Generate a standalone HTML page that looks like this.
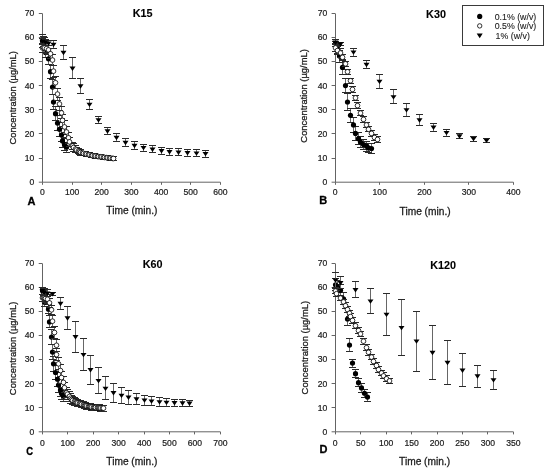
<!DOCTYPE html>
<html><head><meta charset="utf-8"><style>
html,body{margin:0;padding:0;background:#fff;}
body{width:550px;height:472px;overflow:hidden;}
svg{display:block;will-change:transform;}
text{font-family:"Liberation Sans", sans-serif;fill:#1a1a1a;stroke:#1a1a1a;stroke-width:0.2px;}
.tl{font-size:8.6px;}
.at{font-size:10.2px;stroke-width:0.28px;}
.tt{font-size:10.8px;font-weight:bold;fill:#000;stroke:#000;stroke-width:0.1px;}
.lt{font-size:11px;font-weight:bold;fill:#000;stroke:#000;stroke-width:0.3px;}
.lg{font-size:8.8px;stroke-width:0.1px;}
.yt{font-size:9.4px;}
</style></head><body>
<svg width="550" height="472" viewBox="0 0 550 472">
<rect width="550" height="472" fill="#fff"/>
<path d="M42.5 13.5V182.2M42.4 182.2H220.4" fill="none" stroke="#646464" stroke-width="1"/>
<path d="M38.8 182.2H42.4M38.8 158.5H42.4M38.8 133.5H42.4M38.8 109.5H42.4M38.8 85.5H42.4M38.8 61.5H42.4M38.8 37.5H42.4M38.8 13.5H42.4M42.5 182.2V184.8M72.5 182.2V184.8M101.5 182.2V184.8M131.5 182.2V184.8M161.5 182.2V184.8M190.5 182.2V184.8M220.5 182.2V184.8" stroke="#646464" stroke-width="1"/>
<text x="34.4" y="185.15" text-anchor="end" class="tl">0</text>
<text x="34.4" y="161.01" text-anchor="end" class="tl">10</text>
<text x="34.4" y="136.86" text-anchor="end" class="tl">20</text>
<text x="34.4" y="112.72" text-anchor="end" class="tl">30</text>
<text x="34.4" y="88.58" text-anchor="end" class="tl">40</text>
<text x="34.4" y="64.44" text-anchor="end" class="tl">50</text>
<text x="34.4" y="40.29" text-anchor="end" class="tl">60</text>
<text x="34.4" y="16.15" text-anchor="end" class="tl">70</text>
<text x="42.4" y="195.2" text-anchor="middle" class="tl">0</text>
<text x="72.07" y="195.2" text-anchor="middle" class="tl">100</text>
<text x="101.73" y="195.2" text-anchor="middle" class="tl">200</text>
<text x="131.4" y="195.2" text-anchor="middle" class="tl">300</text>
<text x="161.07" y="195.2" text-anchor="middle" class="tl">400</text>
<text x="190.73" y="195.2" text-anchor="middle" class="tl">500</text>
<text x="220.4" y="195.2" text-anchor="middle" class="tl">600</text>
<text x="131.9" y="214.1" text-anchor="middle" class="at">Time (min.)</text>
<text transform="translate(15.6 97.85) rotate(-90)" text-anchor="middle" class="at yt">Concentration (µg/mL)</text>
<text x="132.7" y="16.7" class="tt">K15</text>
<text x="27.6" y="205.2" class="lt">A</text>
<path d="M42.5 34.5V47.5M43.5 36.5V46.5M44.5 37.5V47.5M45.5 47.5V57.5M48.5 52.5V64.5M50.5 64.5V78.5M52.5 79.5V94.5M53.5 94.5V109.5M55.5 106.5V120.5M57.5 115.5V130.5M59.5 122.5V136.5M61.5 128.5V141.5M62.5 134.5V147.5M64.5 138.5V150.5M66.5 142.5V152.5" stroke="#666" stroke-width="1" fill="none"/>
<path d="M39 34.5H46M39 47.5H46M40 36.5H47M40 46.5H47M41 37.5H48M41 47.5H48M42 47.5H49M42 57.5H49M45 52.5H52M45 64.5H52M47 64.5H54M47 78.5H54M49 79.5H56M49 94.5H56M50 94.5H57M50 109.5H57M52 106.5H59M52 120.5H59M54 115.5H61M54 130.5H61M56 122.5H63M56 136.5H63M58 128.5H65M58 141.5H65M59 134.5H66M59 147.5H66M61 138.5H68M61 150.5H68M63 142.5H70M63 152.5H70" stroke="#2a2a2a" stroke-width="1" fill="none"/>
<circle cx="42.5" cy="40.96" r="2.6" fill="#000"/>
<circle cx="43.5" cy="41.45" r="2.6" fill="#000"/>
<circle cx="44.5" cy="42.65" r="2.6" fill="#000"/>
<circle cx="45.5" cy="52.55" r="2.6" fill="#000"/>
<circle cx="48.5" cy="58.83" r="2.6" fill="#000"/>
<circle cx="50.5" cy="71.63" r="2.6" fill="#000"/>
<circle cx="52.5" cy="87.08" r="2.6" fill="#000"/>
<circle cx="53.5" cy="102.05" r="2.6" fill="#000"/>
<circle cx="55.5" cy="113.63" r="2.6" fill="#000"/>
<circle cx="57.5" cy="123.05" r="2.6" fill="#000"/>
<circle cx="59.5" cy="129.33" r="2.6" fill="#000"/>
<circle cx="61.5" cy="135.12" r="2.6" fill="#000"/>
<circle cx="62.5" cy="140.92" r="2.6" fill="#000"/>
<circle cx="64.5" cy="144.54" r="2.6" fill="#000"/>
<circle cx="66.5" cy="147.19" r="2.6" fill="#000"/>
<path d="M42.5 43.5V52.5M43.5 42.5V52.5M44.5 43.5V52.5M46.5 43.5V53.5M48.5 45.5V54.5M50.5 48.5V58.5M52.5 54.5V65.5M53.5 65.5V77.5M55.5 76.5V88.5M57.5 88.5V100.5M59.5 97.5V110.5M61.5 106.5V118.5M62.5 114.5V126.5M64.5 120.5V132.5M66.5 126.5V137.5M68.5 132.5V143.5M69.5 137.5V146.5M72.5 142.5V149.5M73.5 143.5V151.5M75.5 145.5V152.5M76.5 147.5V152.5M78.5 148.5V153.5M79.5 149.5V154.5M80.5 149.5V155.5M82.5 151.5V154.5M83.5 151.5V155.5M85.5 151.5V155.5M86.5 152.5V156.5M88.5 152.5V156.5M89.5 152.5V156.5M91.5 153.5V157.5M92.5 153.5V157.5M94.5 153.5V157.5M95.5 154.5V158.5M97.5 154.5V158.5M98.5 154.5V158.5M100.5 154.5V158.5M101.5 155.5V158.5M103.5 155.5V159.5M104.5 155.5V159.5M106.5 155.5V159.5M107.5 155.5V159.5M109.5 156.5V159.5M110.5 156.5V160.5M112.5 156.5V160.5M113.5 156.5V160.5" stroke="#666" stroke-width="1" fill="none"/>
<path d="M39 43.5H46M39 52.5H46M40 42.5H47M40 52.5H47M41 43.5H48M41 52.5H48M43 43.5H50M43 53.5H50M45 45.5H52M45 54.5H52M47 48.5H54M47 58.5H54M49 54.5H56M49 65.5H56M50 65.5H57M50 77.5H57M52 76.5H59M52 88.5H59M54 88.5H61M54 100.5H61M56 97.5H63M56 110.5H63M58 106.5H65M58 118.5H65M59 114.5H66M59 126.5H66M61 120.5H68M61 132.5H68M63 126.5H70M63 137.5H70M65 132.5H72M65 143.5H72M66 137.5H73M66 146.5H73M69 142.5H76M69 149.5H76M70 143.5H77M70 151.5H77M72 145.5H79M72 152.5H79M73 147.5H80M73 152.5H80M75 148.5H82M75 153.5H82M76 149.5H83M76 154.5H83M77 149.5H84M77 155.5H84M79 151.5H86M79 154.5H86M80 151.5H87M80 155.5H87M82 151.5H89M82 155.5H89M83 152.5H90M83 156.5H90M85 152.5H92M85 156.5H92M86 152.5H93M86 156.5H93M88 153.5H95M88 157.5H95M89 153.5H96M89 157.5H96M91 153.5H98M91 157.5H98M92 154.5H99M92 158.5H99M94 154.5H101M94 158.5H101M95 154.5H102M95 158.5H102M97 154.5H104M97 158.5H104M98 155.5H105M98 158.5H105M100 155.5H107M100 159.5H107M101 155.5H108M101 159.5H108M103 155.5H110M103 159.5H110M104 155.5H111M104 159.5H111M106 156.5H113M106 159.5H113M107 156.5H114M107 160.5H114M109 156.5H116M109 160.5H116M110 156.5H117M110 160.5H117" stroke="#2a2a2a" stroke-width="1" fill="none"/>
<circle cx="42.5" cy="47.97" r="2.35" fill="#fff" stroke="#000" stroke-width="0.8"/>
<circle cx="43.5" cy="47.48" r="2.35" fill="#fff" stroke="#000" stroke-width="0.8"/>
<circle cx="44.5" cy="47.97" r="2.35" fill="#fff" stroke="#000" stroke-width="0.8"/>
<circle cx="46.5" cy="48.69" r="2.35" fill="#fff" stroke="#000" stroke-width="0.8"/>
<circle cx="48.5" cy="49.9" r="2.35" fill="#fff" stroke="#000" stroke-width="0.8"/>
<circle cx="50.5" cy="53.76" r="2.35" fill="#fff" stroke="#000" stroke-width="0.8"/>
<circle cx="52.5" cy="60.04" r="2.35" fill="#fff" stroke="#000" stroke-width="0.8"/>
<circle cx="53.5" cy="71.14" r="2.35" fill="#fff" stroke="#000" stroke-width="0.8"/>
<circle cx="55.5" cy="82.73" r="2.35" fill="#fff" stroke="#000" stroke-width="0.8"/>
<circle cx="57.5" cy="94.08" r="2.35" fill="#fff" stroke="#000" stroke-width="0.8"/>
<circle cx="59.5" cy="103.98" r="2.35" fill="#fff" stroke="#000" stroke-width="0.8"/>
<circle cx="61.5" cy="112.91" r="2.35" fill="#fff" stroke="#000" stroke-width="0.8"/>
<circle cx="62.5" cy="120.39" r="2.35" fill="#fff" stroke="#000" stroke-width="0.8"/>
<circle cx="64.5" cy="126.91" r="2.35" fill="#fff" stroke="#000" stroke-width="0.8"/>
<circle cx="66.5" cy="131.98" r="2.35" fill="#fff" stroke="#000" stroke-width="0.8"/>
<circle cx="68.5" cy="137.78" r="2.35" fill="#fff" stroke="#000" stroke-width="0.8"/>
<circle cx="69.5" cy="141.88" r="2.35" fill="#fff" stroke="#000" stroke-width="0.8"/>
<circle cx="72.5" cy="145.99" r="2.35" fill="#fff" stroke="#000" stroke-width="0.8"/>
<circle cx="73.5" cy="147.56" r="2.35" fill="#fff" stroke="#000" stroke-width="0.8"/>
<circle cx="75.5" cy="149.12" r="2.35" fill="#fff" stroke="#000" stroke-width="0.8"/>
<circle cx="76.5" cy="150.09" r="2.35" fill="#fff" stroke="#000" stroke-width="0.8"/>
<circle cx="78.5" cy="151.06" r="2.35" fill="#fff" stroke="#000" stroke-width="0.8"/>
<circle cx="79.5" cy="151.78" r="2.35" fill="#fff" stroke="#000" stroke-width="0.8"/>
<circle cx="80.5" cy="152.5" r="2.35" fill="#fff" stroke="#000" stroke-width="0.8"/>
<circle cx="82.5" cy="152.99" r="2.35" fill="#fff" stroke="#000" stroke-width="0.8"/>
<circle cx="83.5" cy="153.47" r="2.35" fill="#fff" stroke="#000" stroke-width="0.8"/>
<circle cx="85.5" cy="153.83" r="2.35" fill="#fff" stroke="#000" stroke-width="0.8"/>
<circle cx="86.5" cy="154.19" r="2.35" fill="#fff" stroke="#000" stroke-width="0.8"/>
<circle cx="88.5" cy="154.56" r="2.35" fill="#fff" stroke="#000" stroke-width="0.8"/>
<circle cx="89.5" cy="154.92" r="2.35" fill="#fff" stroke="#000" stroke-width="0.8"/>
<circle cx="91.5" cy="155.28" r="2.35" fill="#fff" stroke="#000" stroke-width="0.8"/>
<circle cx="92.5" cy="155.64" r="2.35" fill="#fff" stroke="#000" stroke-width="0.8"/>
<circle cx="94.5" cy="155.88" r="2.35" fill="#fff" stroke="#000" stroke-width="0.8"/>
<circle cx="95.5" cy="156.13" r="2.35" fill="#fff" stroke="#000" stroke-width="0.8"/>
<circle cx="97.5" cy="156.37" r="2.35" fill="#fff" stroke="#000" stroke-width="0.8"/>
<circle cx="98.5" cy="156.61" r="2.35" fill="#fff" stroke="#000" stroke-width="0.8"/>
<circle cx="100.5" cy="156.79" r="2.35" fill="#fff" stroke="#000" stroke-width="0.8"/>
<circle cx="101.5" cy="156.97" r="2.35" fill="#fff" stroke="#000" stroke-width="0.8"/>
<circle cx="103.5" cy="157.21" r="2.35" fill="#fff" stroke="#000" stroke-width="0.8"/>
<circle cx="104.5" cy="157.45" r="2.35" fill="#fff" stroke="#000" stroke-width="0.8"/>
<circle cx="106.5" cy="157.63" r="2.35" fill="#fff" stroke="#000" stroke-width="0.8"/>
<circle cx="107.5" cy="157.82" r="2.35" fill="#fff" stroke="#000" stroke-width="0.8"/>
<circle cx="109.5" cy="158" r="2.35" fill="#fff" stroke="#000" stroke-width="0.8"/>
<circle cx="110.5" cy="158.18" r="2.35" fill="#fff" stroke="#000" stroke-width="0.8"/>
<circle cx="112.5" cy="158.36" r="2.35" fill="#fff" stroke="#000" stroke-width="0.8"/>
<circle cx="113.5" cy="158.54" r="2.35" fill="#fff" stroke="#000" stroke-width="0.8"/>
<path d="M42.5 38.5V44.5M45.5 39.5V45.5M48.5 40.5V45.5M53.5 40.5V48.5M63.5 45.5V59.5M72.5 57.5V78.5M80.5 78.5V93.5M89.5 99.5V109.5M98.5 116.5V123.5M107.5 127.5V134.5M116.5 133.5V141.5M125.5 138.5V146.5M134.5 141.5V149.5M143.5 144.5V151.5M152.5 145.5V152.5M161.5 147.5V154.5M169.5 148.5V155.5M178.5 148.5V155.5M187.5 149.5V156.5M196.5 149.5V156.5M205.5 150.5V157.5" stroke="#666" stroke-width="1" fill="none"/>
<path d="M39 38.5H46M39 44.5H46M42 39.5H49M42 45.5H49M45 40.5H52M45 45.5H52M50 40.5H57M50 48.5H57M60 45.5H67M60 59.5H67M69 57.5H76M69 78.5H76M77 78.5H84M77 93.5H84M86 99.5H93M86 109.5H93M95 116.5H102M95 123.5H102M104 127.5H111M104 134.5H111M113 133.5H120M113 141.5H120M122 138.5H129M122 146.5H129M131 141.5H138M131 149.5H138M140 144.5H147M140 151.5H147M149 145.5H156M149 152.5H156M158 147.5H165M158 154.5H165M166 148.5H173M166 155.5H173M175 148.5H182M175 155.5H182M184 149.5H191M184 156.5H191M193 149.5H200M193 156.5H200M202 150.5H209M202 157.5H209" stroke="#2a2a2a" stroke-width="1" fill="none"/>
<path d="M39.5 39.69H45.5L42.5 44.09Z" fill="#000"/>
<path d="M42.5 40.41H48.5L45.5 44.81Z" fill="#000"/>
<path d="M45.5 41.62H51.5L48.5 46.02Z" fill="#000"/>
<path d="M50.5 42.83H56.5L53.5 47.23Z" fill="#000"/>
<path d="M60.5 50.79H66.5L63.5 55.19Z" fill="#000"/>
<path d="M69.5 66.49H75.5L72.5 70.89Z" fill="#000"/>
<path d="M77.5 84.35H83.5L80.5 88.75Z" fill="#000"/>
<path d="M86.5 102.7H92.5L89.5 107.1Z" fill="#000"/>
<path d="M95.5 118.15H101.5L98.5 122.55Z" fill="#000"/>
<path d="M104.5 129.26H110.5L107.5 133.66Z" fill="#000"/>
<path d="M113.5 135.78H119.5L116.5 140.18Z" fill="#000"/>
<path d="M122.5 140.85H128.5L125.5 145.25Z" fill="#000"/>
<path d="M131.5 143.74H137.5L134.5 148.14Z" fill="#000"/>
<path d="M140.5 145.92H146.5L143.5 150.32Z" fill="#000"/>
<path d="M149.5 147.61H155.5L152.5 152.01Z" fill="#000"/>
<path d="M158.5 149.05H164.5L161.5 153.45Z" fill="#000"/>
<path d="M166.5 150.02H172.5L169.5 154.42Z" fill="#000"/>
<path d="M175.5 150.5H181.5L178.5 154.9Z" fill="#000"/>
<path d="M184.5 150.99H190.5L187.5 155.39Z" fill="#000"/>
<path d="M193.5 151.47H199.5L196.5 155.87Z" fill="#000"/>
<path d="M202.5 151.95H208.5L205.5 156.35Z" fill="#000"/>
<path d="M335.5 13.5V182.2M335.2 182.2H513.4" fill="none" stroke="#646464" stroke-width="1"/>
<path d="M331.6 182.2H335.2M331.6 158.5H335.2M331.6 133.5H335.2M331.6 109.5H335.2M331.6 85.5H335.2M331.6 61.5H335.2M331.6 37.5H335.2M331.6 13.5H335.2M335.5 182.2V184.8M379.5 182.2V184.8M424.5 182.2V184.8M468.5 182.2V184.8M513.5 182.2V184.8" stroke="#646464" stroke-width="1"/>
<text x="327.2" y="185.15" text-anchor="end" class="tl">0</text>
<text x="327.2" y="160.99" text-anchor="end" class="tl">10</text>
<text x="327.2" y="136.84" text-anchor="end" class="tl">20</text>
<text x="327.2" y="112.68" text-anchor="end" class="tl">30</text>
<text x="327.2" y="88.52" text-anchor="end" class="tl">40</text>
<text x="327.2" y="64.36" text-anchor="end" class="tl">50</text>
<text x="327.2" y="40.21" text-anchor="end" class="tl">60</text>
<text x="327.2" y="16.05" text-anchor="end" class="tl">70</text>
<text x="335.2" y="195.2" text-anchor="middle" class="tl">0</text>
<text x="379.75" y="195.2" text-anchor="middle" class="tl">100</text>
<text x="424.3" y="195.2" text-anchor="middle" class="tl">200</text>
<text x="468.85" y="195.2" text-anchor="middle" class="tl">300</text>
<text x="513.4" y="195.2" text-anchor="middle" class="tl">400</text>
<text x="425.1" y="214.6" text-anchor="middle" class="at">Time (min.)</text>
<text transform="translate(306.6 95.9) rotate(-90)" text-anchor="middle" class="at yt">Concentration (µg/mL)</text>
<text x="426.1" y="17.5" class="tt">K30</text>
<text x="319.3" y="203.7" class="lt">B</text>
<path d="M335.5 39.5V46.5M337.5 43.5V53.5M339.5 50.5V62.5M342.5 60.5V74.5M345.5 78.5V92.5M347.5 93.5V110.5M350.5 108.5V122.5M353.5 117.5V132.5M355.5 126.5V140.5M358.5 132.5V144.5M360.5 136.5V147.5M363.5 139.5V149.5M366.5 141.5V151.5M368.5 143.5V152.5M371.5 143.5V153.5" stroke="#666" stroke-width="1" fill="none"/>
<path d="M332 39.5H339M332 46.5H339M334 43.5H341M334 53.5H341M336 50.5H343M336 62.5H343M339 60.5H346M339 74.5H346M342 78.5H349M342 92.5H349M344 93.5H351M344 110.5H351M347 108.5H354M347 122.5H354M350 117.5H357M350 132.5H357M352 126.5H359M352 140.5H359M355 132.5H362M355 144.5H362M357 136.5H364M357 147.5H364M360 139.5H367M360 149.5H367M363 141.5H370M363 151.5H370M365 143.5H372M365 152.5H372M368 143.5H375M368 153.5H375" stroke="#2a2a2a" stroke-width="1" fill="none"/>
<circle cx="335.5" cy="43.3" r="2.6" fill="#000"/>
<circle cx="337.5" cy="48.61" r="2.6" fill="#000"/>
<circle cx="339.5" cy="56.1" r="2.6" fill="#000"/>
<circle cx="342.5" cy="67.45" r="2.6" fill="#000"/>
<circle cx="345.5" cy="85.57" r="2.6" fill="#000"/>
<circle cx="347.5" cy="102" r="2.6" fill="#000"/>
<circle cx="350.5" cy="115.28" r="2.6" fill="#000"/>
<circle cx="353.5" cy="124.95" r="2.6" fill="#000"/>
<circle cx="355.5" cy="133.4" r="2.6" fill="#000"/>
<circle cx="358.5" cy="138.72" r="2.6" fill="#000"/>
<circle cx="360.5" cy="142.1" r="2.6" fill="#000"/>
<circle cx="363.5" cy="144.51" r="2.6" fill="#000"/>
<circle cx="366.5" cy="146.21" r="2.6" fill="#000"/>
<circle cx="368.5" cy="147.9" r="2.6" fill="#000"/>
<circle cx="371.5" cy="148.62" r="2.6" fill="#000"/>
<path d="M335.5 44.5V51.5M337.5 46.5V54.5M340.5 48.5V57.5M342.5 54.5V59.5M345.5 61.5V66.5M347.5 69.5V74.5M350.5 78.5V83.5M352.5 86.5V92.5M355.5 95.5V100.5M357.5 102.5V108.5M360.5 110.5V115.5M363.5 116.5V122.5M366.5 122.5V127.5M368.5 126.5V131.5M371.5 130.5V136.5M374.5 134.5V140.5M377.5 136.5V142.5" stroke="#666" stroke-width="1" fill="none"/>
<path d="M332 44.5H339M332 51.5H339M334 46.5H341M334 54.5H341M337 48.5H344M337 57.5H344M339 54.5H346M339 59.5H346M342 61.5H349M342 66.5H349M344 69.5H351M344 74.5H351M347 78.5H354M347 83.5H354M349 86.5H356M349 92.5H356M352 95.5H359M352 100.5H359M354 102.5H361M354 108.5H361M357 110.5H364M357 115.5H364M360 116.5H367M360 122.5H367M363 122.5H370M363 127.5H370M365 126.5H372M365 131.5H372M368 130.5H375M368 136.5H375M371 134.5H378M371 140.5H378M374 136.5H381M374 142.5H381" stroke="#2a2a2a" stroke-width="1" fill="none"/>
<circle cx="335.5" cy="47.89" r="2.35" fill="#fff" stroke="#000" stroke-width="0.8"/>
<circle cx="337.5" cy="50.54" r="2.35" fill="#fff" stroke="#000" stroke-width="0.8"/>
<circle cx="340.5" cy="52.96" r="2.35" fill="#fff" stroke="#000" stroke-width="0.8"/>
<circle cx="342.5" cy="57.31" r="2.35" fill="#fff" stroke="#000" stroke-width="0.8"/>
<circle cx="345.5" cy="63.83" r="2.35" fill="#fff" stroke="#000" stroke-width="0.8"/>
<circle cx="347.5" cy="71.8" r="2.35" fill="#fff" stroke="#000" stroke-width="0.8"/>
<circle cx="350.5" cy="80.74" r="2.35" fill="#fff" stroke="#000" stroke-width="0.8"/>
<circle cx="352.5" cy="89.44" r="2.35" fill="#fff" stroke="#000" stroke-width="0.8"/>
<circle cx="355.5" cy="97.89" r="2.35" fill="#fff" stroke="#000" stroke-width="0.8"/>
<circle cx="357.5" cy="105.62" r="2.35" fill="#fff" stroke="#000" stroke-width="0.8"/>
<circle cx="360.5" cy="113.11" r="2.35" fill="#fff" stroke="#000" stroke-width="0.8"/>
<circle cx="363.5" cy="119.39" r="2.35" fill="#fff" stroke="#000" stroke-width="0.8"/>
<circle cx="366.5" cy="124.95" r="2.35" fill="#fff" stroke="#000" stroke-width="0.8"/>
<circle cx="368.5" cy="129.3" r="2.35" fill="#fff" stroke="#000" stroke-width="0.8"/>
<circle cx="371.5" cy="133.4" r="2.35" fill="#fff" stroke="#000" stroke-width="0.8"/>
<circle cx="374.5" cy="137.51" r="2.35" fill="#fff" stroke="#000" stroke-width="0.8"/>
<circle cx="377.5" cy="139.44" r="2.35" fill="#fff" stroke="#000" stroke-width="0.8"/>
<path d="M335.5 41.5V43.5M340.5 42.5V45.5M353.5 48.5V56.5M366.5 60.5V68.5M379.5 74.5V88.5M393.5 89.5V103.5M406.5 103.5V116.5M419.5 114.5V125.5M433.5 123.5V131.5M446.5 129.5V136.5M459.5 133.5V138.5M473.5 136.5V141.5M486.5 138.5V142.5" stroke="#666" stroke-width="1" fill="none"/>
<path d="M332 41.5H339M332 43.5H339M337 42.5H344M337 45.5H344M350 48.5H357M350 56.5H357M363 60.5H370M363 68.5H370M376 74.5H383M376 88.5H383M390 89.5H397M390 103.5H397M403 103.5H410M403 116.5H410M416 114.5H423M416 125.5H423M430 123.5H437M430 131.5H437M443 129.5H450M443 136.5H450M456 133.5H463M456 138.5H463M470 136.5H477M470 141.5H477M483 138.5H490M483 142.5H490" stroke="#2a2a2a" stroke-width="1" fill="none"/>
<path d="M332.5 40.57H338.5L335.5 44.97Z" fill="#000"/>
<path d="M337.5 42.26H343.5L340.5 46.66Z" fill="#000"/>
<path d="M350.5 50.47H356.5L353.5 54.87Z" fill="#000"/>
<path d="M363.5 62.79H369.5L366.5 67.19Z" fill="#000"/>
<path d="M376.5 79.7H382.5L379.5 84.1Z" fill="#000"/>
<path d="M390.5 95.17H396.5L393.5 99.57Z" fill="#000"/>
<path d="M403.5 108.21H409.5L406.5 112.61Z" fill="#000"/>
<path d="M416.5 118.36H422.5L419.5 122.76Z" fill="#000"/>
<path d="M430.5 125.6H436.5L433.5 130Z" fill="#000"/>
<path d="M443.5 130.92H449.5L446.5 135.32Z" fill="#000"/>
<path d="M456.5 134.3H462.5L459.5 138.7Z" fill="#000"/>
<path d="M470.5 136.96H476.5L473.5 141.36Z" fill="#000"/>
<path d="M483.5 138.65H489.5L486.5 143.05Z" fill="#000"/>
<path d="M42.5 263.5V431.8M42.3 431.8H220.4" fill="none" stroke="#646464" stroke-width="1"/>
<path d="M38.7 431.8H42.3M38.7 407.5H42.3M38.7 383.5H42.3M38.7 359.5H42.3M38.7 335.5H42.3M38.7 311.5H42.3M38.7 287.5H42.3M38.7 263.5H42.3M42.5 431.8V434.4M67.5 431.8V434.4M93.5 431.8V434.4M118.5 431.8V434.4M144.5 431.8V434.4M169.5 431.8V434.4M194.5 431.8V434.4M220.5 431.8V434.4" stroke="#646464" stroke-width="1"/>
<text x="34.3" y="434.75" text-anchor="end" class="tl">0</text>
<text x="34.3" y="410.65" text-anchor="end" class="tl">10</text>
<text x="34.3" y="386.55" text-anchor="end" class="tl">20</text>
<text x="34.3" y="362.45" text-anchor="end" class="tl">30</text>
<text x="34.3" y="338.35" text-anchor="end" class="tl">40</text>
<text x="34.3" y="314.25" text-anchor="end" class="tl">50</text>
<text x="34.3" y="290.15" text-anchor="end" class="tl">60</text>
<text x="34.3" y="266.05" text-anchor="end" class="tl">70</text>
<text x="42.3" y="445.7" text-anchor="middle" class="tl">0</text>
<text x="67.74" y="445.7" text-anchor="middle" class="tl">100</text>
<text x="93.19" y="445.7" text-anchor="middle" class="tl">200</text>
<text x="118.63" y="445.7" text-anchor="middle" class="tl">300</text>
<text x="144.07" y="445.7" text-anchor="middle" class="tl">400</text>
<text x="169.51" y="445.7" text-anchor="middle" class="tl">500</text>
<text x="194.96" y="445.7" text-anchor="middle" class="tl">600</text>
<text x="220.4" y="445.7" text-anchor="middle" class="tl">700</text>
<text x="131.85" y="464.7" text-anchor="middle" class="at">Time (min.)</text>
<text transform="translate(15.6 348.4) rotate(-90)" text-anchor="middle" class="at yt">Concentration (µg/mL)</text>
<text x="142.7" y="267.7" class="tt">K60</text>
<text transform="translate(26.2 454.9) scale(0.86 1.04)" class="lt">C</text>
<path d="M42.5 287.5V294.5M43.5 288.5V295.5M44.5 297.5V306.5M48.5 304.5V313.5M49.5 315.5V327.5M51.5 329.5V344.5M52.5 344.5V359.5M53.5 356.5V371.5M55.5 365.5V379.5M57.5 372.5V386.5M58.5 377.5V392.5M60.5 383.5V396.5M61.5 387.5V399.5M63.5 390.5V401.5" stroke="#666" stroke-width="1" fill="none"/>
<path d="M39 287.5H46M39 294.5H46M40 288.5H47M40 295.5H47M41 297.5H48M41 306.5H48M45 304.5H52M45 313.5H52M46 315.5H53M46 327.5H53M48 329.5H55M48 344.5H55M49 344.5H56M49 359.5H56M50 356.5H57M50 371.5H57M52 365.5H59M52 379.5H59M54 372.5H61M54 386.5H61M55 377.5H62M55 392.5H62M57 383.5H64M57 396.5H64M58 387.5H65M58 399.5H65M60 390.5H67M60 401.5H67" stroke="#2a2a2a" stroke-width="1" fill="none"/>
<circle cx="42.5" cy="290.82" r="2.6" fill="#000"/>
<circle cx="43.5" cy="292.02" r="2.6" fill="#000"/>
<circle cx="44.5" cy="302.14" r="2.6" fill="#000"/>
<circle cx="48.5" cy="309.13" r="2.6" fill="#000"/>
<circle cx="49.5" cy="321.9" r="2.6" fill="#000"/>
<circle cx="51.5" cy="337.09" r="2.6" fill="#000"/>
<circle cx="52.5" cy="352.03" r="2.6" fill="#000"/>
<circle cx="53.5" cy="363.84" r="2.6" fill="#000"/>
<circle cx="55.5" cy="372.51" r="2.6" fill="#000"/>
<circle cx="57.5" cy="379.26" r="2.6" fill="#000"/>
<circle cx="58.5" cy="385.05" r="2.6" fill="#000"/>
<circle cx="60.5" cy="390.11" r="2.6" fill="#000"/>
<circle cx="61.5" cy="393.48" r="2.6" fill="#000"/>
<circle cx="63.5" cy="396.13" r="2.6" fill="#000"/>
<path d="M42.5 294.5V301.5M43.5 294.5V301.5M44.5 294.5V301.5M45.5 294.5V302.5M47.5 294.5V303.5M49.5 298.5V307.5M51.5 305.5V314.5M52.5 315.5V327.5M54.5 326.5V338.5M56.5 339.5V351.5M56.5 348.5V360.5M58.5 357.5V369.5M60.5 364.5V376.5M61.5 371.5V383.5M63.5 376.5V387.5M64.5 382.5V392.5M66.5 387.5V397.5M67.5 389.5V399.5M69.5 391.5V401.5M70.5 393.5V403.5M71.5 395.5V403.5M72.5 396.5V404.5M74.5 397.5V405.5M75.5 398.5V405.5M76.5 399.5V405.5M77.5 399.5V406.5M79.5 400.5V406.5M80.5 400.5V406.5M81.5 401.5V407.5M83.5 401.5V407.5M84.5 402.5V408.5M85.5 402.5V408.5M86.5 403.5V409.5M88.5 403.5V409.5M89.5 403.5V409.5M90.5 403.5V409.5M91.5 404.5V410.5M93.5 404.5V410.5M94.5 404.5V410.5M95.5 404.5V410.5M97.5 404.5V410.5M98.5 404.5V410.5M99.5 404.5V410.5M100.5 405.5V411.5M102.5 405.5V411.5M103.5 405.5V411.5" stroke="#666" stroke-width="1" fill="none"/>
<path d="M39 294.5H46M39 301.5H46M40 294.5H47M40 301.5H47M41 294.5H48M41 301.5H48M42 294.5H49M42 302.5H49M44 294.5H51M44 303.5H51M46 298.5H53M46 307.5H53M48 305.5H55M48 314.5H55M49 315.5H56M49 327.5H56M51 326.5H58M51 338.5H58M53 339.5H60M53 351.5H60M53 348.5H60M53 360.5H60M55 357.5H62M55 369.5H62M57 364.5H64M57 376.5H64M58 371.5H65M58 383.5H65M60 376.5H67M60 387.5H67M61 382.5H68M61 392.5H68M63 387.5H70M63 397.5H70M64 389.5H71M64 399.5H71M66 391.5H73M66 401.5H73M67 393.5H74M67 403.5H74M68 395.5H75M68 403.5H75M69 396.5H76M69 404.5H76M71 397.5H78M71 405.5H78M72 398.5H79M72 405.5H79M73 399.5H80M73 405.5H80M74 399.5H81M74 406.5H81M76 400.5H83M76 406.5H83M77 400.5H84M77 406.5H84M78 401.5H85M78 407.5H85M80 401.5H87M80 407.5H87M81 402.5H88M81 408.5H88M82 402.5H89M82 408.5H89M83 403.5H90M83 409.5H90M85 403.5H92M85 409.5H92M86 403.5H93M86 409.5H93M87 403.5H94M87 409.5H94M88 404.5H95M88 410.5H95M90 404.5H97M90 410.5H97M91 404.5H98M91 410.5H98M92 404.5H99M92 410.5H99M94 404.5H101M94 410.5H101M95 404.5H102M95 410.5H102M96 404.5H103M96 410.5H103M97 405.5H104M97 411.5H104M99 405.5H106M99 411.5H106M100 405.5H107M100 411.5H107" stroke="#2a2a2a" stroke-width="1" fill="none"/>
<circle cx="42.5" cy="297.8" r="2.35" fill="#fff" stroke="#000" stroke-width="0.8"/>
<circle cx="43.5" cy="297.8" r="2.35" fill="#fff" stroke="#000" stroke-width="0.8"/>
<circle cx="44.5" cy="298.05" r="2.35" fill="#fff" stroke="#000" stroke-width="0.8"/>
<circle cx="45.5" cy="298.53" r="2.35" fill="#fff" stroke="#000" stroke-width="0.8"/>
<circle cx="47.5" cy="299.25" r="2.35" fill="#fff" stroke="#000" stroke-width="0.8"/>
<circle cx="49.5" cy="302.87" r="2.35" fill="#fff" stroke="#000" stroke-width="0.8"/>
<circle cx="51.5" cy="309.85" r="2.35" fill="#fff" stroke="#000" stroke-width="0.8"/>
<circle cx="52.5" cy="321.18" r="2.35" fill="#fff" stroke="#000" stroke-width="0.8"/>
<circle cx="54.5" cy="332.51" r="2.35" fill="#fff" stroke="#000" stroke-width="0.8"/>
<circle cx="56.5" cy="345.28" r="2.35" fill="#fff" stroke="#000" stroke-width="0.8"/>
<circle cx="56.5" cy="354.68" r="2.35" fill="#fff" stroke="#000" stroke-width="0.8"/>
<circle cx="58.5" cy="363.84" r="2.35" fill="#fff" stroke="#000" stroke-width="0.8"/>
<circle cx="60.5" cy="370.59" r="2.35" fill="#fff" stroke="#000" stroke-width="0.8"/>
<circle cx="61.5" cy="377.58" r="2.35" fill="#fff" stroke="#000" stroke-width="0.8"/>
<circle cx="63.5" cy="382.4" r="2.35" fill="#fff" stroke="#000" stroke-width="0.8"/>
<circle cx="64.5" cy="387.7" r="2.35" fill="#fff" stroke="#000" stroke-width="0.8"/>
<circle cx="66.5" cy="392.76" r="2.35" fill="#fff" stroke="#000" stroke-width="0.8"/>
<circle cx="67.5" cy="394.2" r="2.35" fill="#fff" stroke="#000" stroke-width="0.8"/>
<circle cx="69.5" cy="396.41" r="2.35" fill="#fff" stroke="#000" stroke-width="0.8"/>
<circle cx="70.5" cy="398.3" r="2.35" fill="#fff" stroke="#000" stroke-width="0.8"/>
<circle cx="71.5" cy="399.51" r="2.35" fill="#fff" stroke="#000" stroke-width="0.8"/>
<circle cx="72.5" cy="400.55" r="2.35" fill="#fff" stroke="#000" stroke-width="0.8"/>
<circle cx="74.5" cy="401.35" r="2.35" fill="#fff" stroke="#000" stroke-width="0.8"/>
<circle cx="75.5" cy="402.04" r="2.35" fill="#fff" stroke="#000" stroke-width="0.8"/>
<circle cx="76.5" cy="402.64" r="2.35" fill="#fff" stroke="#000" stroke-width="0.8"/>
<circle cx="77.5" cy="403" r="2.35" fill="#fff" stroke="#000" stroke-width="0.8"/>
<circle cx="79.5" cy="403.36" r="2.35" fill="#fff" stroke="#000" stroke-width="0.8"/>
<circle cx="80.5" cy="403.86" r="2.35" fill="#fff" stroke="#000" stroke-width="0.8"/>
<circle cx="81.5" cy="404.37" r="2.35" fill="#fff" stroke="#000" stroke-width="0.8"/>
<circle cx="83.5" cy="404.84" r="2.35" fill="#fff" stroke="#000" stroke-width="0.8"/>
<circle cx="84.5" cy="405.29" r="2.35" fill="#fff" stroke="#000" stroke-width="0.8"/>
<circle cx="85.5" cy="405.65" r="2.35" fill="#fff" stroke="#000" stroke-width="0.8"/>
<circle cx="86.5" cy="406.01" r="2.35" fill="#fff" stroke="#000" stroke-width="0.8"/>
<circle cx="88.5" cy="406.25" r="2.35" fill="#fff" stroke="#000" stroke-width="0.8"/>
<circle cx="89.5" cy="406.5" r="2.35" fill="#fff" stroke="#000" stroke-width="0.8"/>
<circle cx="90.5" cy="406.8" r="2.35" fill="#fff" stroke="#000" stroke-width="0.8"/>
<circle cx="91.5" cy="407.1" r="2.35" fill="#fff" stroke="#000" stroke-width="0.8"/>
<circle cx="93.5" cy="407.31" r="2.35" fill="#fff" stroke="#000" stroke-width="0.8"/>
<circle cx="94.5" cy="407.46" r="2.35" fill="#fff" stroke="#000" stroke-width="0.8"/>
<circle cx="95.5" cy="407.58" r="2.35" fill="#fff" stroke="#000" stroke-width="0.8"/>
<circle cx="97.5" cy="407.7" r="2.35" fill="#fff" stroke="#000" stroke-width="0.8"/>
<circle cx="98.5" cy="407.82" r="2.35" fill="#fff" stroke="#000" stroke-width="0.8"/>
<circle cx="99.5" cy="407.94" r="2.35" fill="#fff" stroke="#000" stroke-width="0.8"/>
<circle cx="100.5" cy="408.03" r="2.35" fill="#fff" stroke="#000" stroke-width="0.8"/>
<circle cx="102.5" cy="408.11" r="2.35" fill="#fff" stroke="#000" stroke-width="0.8"/>
<circle cx="103.5" cy="408.18" r="2.35" fill="#fff" stroke="#000" stroke-width="0.8"/>
<path d="M42.5 287.5V294.5M44.5 288.5V295.5M47.5 289.5V296.5M52.5 292.5V295.5M60.5 297.5V309.5M67.5 306.5V329.5M75.5 321.5V352.5M83.5 338.5V370.5M90.5 355.5V384.5M98.5 367.5V393.5M105.5 376.5V399.5M113.5 383.5V402.5M121.5 387.5V403.5M128.5 390.5V404.5M136.5 393.5V404.5M144.5 395.5V405.5M151.5 396.5V405.5M159.5 397.5V406.5M166.5 398.5V406.5M174.5 399.5V406.5M182.5 399.5V406.5M189.5 400.5V406.5" stroke="#666" stroke-width="1" fill="none"/>
<path d="M39 287.5H46M39 294.5H46M41 288.5H48M41 295.5H48M44 289.5H51M44 296.5H51M49 292.5H56M49 295.5H56M57 297.5H64M57 309.5H64M64 306.5H71M64 329.5H71M72 321.5H79M72 352.5H79M80 338.5H87M80 370.5H87M87 355.5H94M87 384.5H94M95 367.5H102M95 393.5H102M102 376.5H109M102 399.5H109M110 383.5H117M110 402.5H117M118 387.5H125M118 403.5H125M125 390.5H132M125 404.5H132M133 393.5H140M133 404.5H140M141 395.5H148M141 405.5H148M148 396.5H155M148 405.5H155M156 397.5H163M156 406.5H163M163 398.5H170M163 406.5H170M171 399.5H178M171 406.5H178M179 399.5H186M179 406.5H186M186 400.5H193M186 406.5H193" stroke="#2a2a2a" stroke-width="1" fill="none"/>
<path d="M39.5 289.06H45.5L42.5 293.46Z" fill="#000"/>
<path d="M41.5 290.26H47.5L44.5 294.66Z" fill="#000"/>
<path d="M44.5 291.47H50.5L47.5 295.87Z" fill="#000"/>
<path d="M49.5 292.19H55.5L52.5 296.59Z" fill="#000"/>
<path d="M57.5 301.83H63.5L60.5 306.23Z" fill="#000"/>
<path d="M64.5 316.29H70.5L67.5 320.69Z" fill="#000"/>
<path d="M72.5 335.09H78.5L75.5 339.49Z" fill="#000"/>
<path d="M80.5 352.92H86.5L83.5 357.32Z" fill="#000"/>
<path d="M87.5 368.1H93.5L90.5 372.5Z" fill="#000"/>
<path d="M95.5 378.95H101.5L98.5 383.35Z" fill="#000"/>
<path d="M102.5 386.66H108.5L105.5 391.06Z" fill="#000"/>
<path d="M110.5 391H116.5L113.5 395.4Z" fill="#000"/>
<path d="M118.5 393.65H124.5L121.5 398.05Z" fill="#000"/>
<path d="M125.5 395.58H131.5L128.5 399.98Z" fill="#000"/>
<path d="M133.5 397.26H139.5L136.5 401.66Z" fill="#000"/>
<path d="M141.5 398.47H147.5L144.5 402.87Z" fill="#000"/>
<path d="M148.5 399.43H154.5L151.5 403.83Z" fill="#000"/>
<path d="M156.5 400.16H162.5L159.5 404.56Z" fill="#000"/>
<path d="M163.5 400.64H169.5L166.5 405.04Z" fill="#000"/>
<path d="M171.5 401.12H177.5L174.5 405.52Z" fill="#000"/>
<path d="M179.5 401.36H185.5L182.5 405.76Z" fill="#000"/>
<path d="M186.5 401.6H192.5L189.5 406Z" fill="#000"/>
<path d="M335.5 263.5V431.8M335.2 431.8H513.4" fill="none" stroke="#646464" stroke-width="1"/>
<path d="M331.6 431.8H335.2M331.6 407.5H335.2M331.6 383.5H335.2M331.6 359.5H335.2M331.6 335.5H335.2M331.6 311.5H335.2M331.6 287.5H335.2M331.6 263.5H335.2M335.5 431.8V434.4M360.5 431.8V434.4M386.5 431.8V434.4M411.5 431.8V434.4M437.5 431.8V434.4M462.5 431.8V434.4M487.5 431.8V434.4M513.5 431.8V434.4" stroke="#646464" stroke-width="1"/>
<text x="327.2" y="434.75" text-anchor="end" class="tl">0</text>
<text x="327.2" y="410.65" text-anchor="end" class="tl">10</text>
<text x="327.2" y="386.55" text-anchor="end" class="tl">20</text>
<text x="327.2" y="362.45" text-anchor="end" class="tl">30</text>
<text x="327.2" y="338.35" text-anchor="end" class="tl">40</text>
<text x="327.2" y="314.25" text-anchor="end" class="tl">50</text>
<text x="327.2" y="290.15" text-anchor="end" class="tl">60</text>
<text x="327.2" y="266.05" text-anchor="end" class="tl">70</text>
<text x="335.2" y="445.7" text-anchor="middle" class="tl">0</text>
<text x="360.66" y="445.7" text-anchor="middle" class="tl">50</text>
<text x="386.11" y="445.7" text-anchor="middle" class="tl">100</text>
<text x="411.57" y="445.7" text-anchor="middle" class="tl">150</text>
<text x="437.03" y="445.7" text-anchor="middle" class="tl">200</text>
<text x="462.49" y="445.7" text-anchor="middle" class="tl">250</text>
<text x="487.94" y="445.7" text-anchor="middle" class="tl">300</text>
<text x="513.4" y="445.7" text-anchor="middle" class="tl">350</text>
<text x="424.6" y="464.7" text-anchor="middle" class="at">Time (min.)</text>
<text transform="translate(307.6 347.65) rotate(-90)" text-anchor="middle" class="at yt">Concentration (µg/mL)</text>
<text x="430.2" y="269" class="tt">K120</text>
<text x="319.4" y="452.9" class="lt">D</text>
<path d="M335.5 278.5V290.5M337.5 280.5V292.5M340.5 284.5V296.5M343.5 292.5V304.5M347.5 312.5V325.5M349.5 338.5V351.5M352.5 359.5V367.5M355.5 369.5V377.5M358.5 378.5V386.5M361.5 383.5V392.5M364.5 389.5V397.5M367.5 392.5V401.5" stroke="#666" stroke-width="1" fill="none"/>
<path d="M332 278.5H339M332 290.5H339M334 280.5H341M334 292.5H341M337 284.5H344M337 296.5H344M340 292.5H347M340 304.5H347M344 312.5H351M344 325.5H351M346 338.5H353M346 351.5H353M349 359.5H356M349 367.5H356M352 369.5H359M352 377.5H359M355 378.5H362M355 386.5H362M358 383.5H365M358 392.5H365M361 389.5H368M361 397.5H368M364 392.5H371M364 401.5H371" stroke="#2a2a2a" stroke-width="1" fill="none"/>
<circle cx="335.5" cy="284.79" r="2.6" fill="#000"/>
<circle cx="337.5" cy="286.72" r="2.6" fill="#000"/>
<circle cx="340.5" cy="290.33" r="2.6" fill="#000"/>
<circle cx="343.5" cy="298.77" r="2.6" fill="#000"/>
<circle cx="347.5" cy="319.01" r="2.6" fill="#000"/>
<circle cx="349.5" cy="345.04" r="2.6" fill="#000"/>
<circle cx="352.5" cy="363.12" r="2.6" fill="#000"/>
<circle cx="355.5" cy="373.72" r="2.6" fill="#000"/>
<circle cx="358.5" cy="382.64" r="2.6" fill="#000"/>
<circle cx="361.5" cy="387.94" r="2.6" fill="#000"/>
<circle cx="364.5" cy="393.24" r="2.6" fill="#000"/>
<circle cx="367.5" cy="397.1" r="2.6" fill="#000"/>
<path d="M335.5 288.5V293.5M336.5 290.5V296.5M340.5 295.5V300.5M343.5 299.5V304.5M345.5 302.5V308.5M347.5 306.5V312.5M349.5 310.5V316.5M350.5 313.5V319.5M352.5 317.5V323.5M355.5 322.5V328.5M358.5 327.5V333.5M360.5 331.5V336.5M363.5 338.5V344.5M366.5 344.5V350.5M368.5 349.5V355.5M371.5 354.5V359.5M373.5 358.5V364.5M376.5 362.5V368.5M378.5 366.5V372.5M381.5 370.5V375.5M383.5 372.5V378.5M386.5 375.5V381.5M389.5 378.5V383.5" stroke="#666" stroke-width="1" fill="none"/>
<path d="M332 288.5H339M332 293.5H339M333 290.5H340M333 296.5H340M337 295.5H344M337 300.5H344M340 299.5H347M340 304.5H347M342 302.5H349M342 308.5H349M344 306.5H351M344 312.5H351M346 310.5H353M346 316.5H353M347 313.5H354M347 319.5H354M349 317.5H356M349 323.5H356M352 322.5H359M352 328.5H359M355 327.5H362M355 333.5H362M357 331.5H364M357 336.5H364M360 338.5H367M360 344.5H367M363 344.5H370M363 350.5H370M365 349.5H372M365 355.5H372M368 354.5H375M368 359.5H375M370 358.5H377M370 364.5H377M373 362.5H380M373 368.5H380M375 366.5H382M375 372.5H382M378 370.5H385M378 375.5H385M380 372.5H387M380 378.5H387M383 375.5H390M383 381.5H390M386 378.5H393M386 383.5H393" stroke="#2a2a2a" stroke-width="1" fill="none"/>
<circle cx="335.5" cy="291.06" r="2.35" fill="#fff" stroke="#000" stroke-width="0.8"/>
<circle cx="336.5" cy="293.71" r="2.35" fill="#fff" stroke="#000" stroke-width="0.8"/>
<circle cx="340.5" cy="298.05" r="2.35" fill="#fff" stroke="#000" stroke-width="0.8"/>
<circle cx="343.5" cy="301.9" r="2.35" fill="#fff" stroke="#000" stroke-width="0.8"/>
<circle cx="345.5" cy="305.76" r="2.35" fill="#fff" stroke="#000" stroke-width="0.8"/>
<circle cx="347.5" cy="309.61" r="2.35" fill="#fff" stroke="#000" stroke-width="0.8"/>
<circle cx="349.5" cy="313.23" r="2.35" fill="#fff" stroke="#000" stroke-width="0.8"/>
<circle cx="350.5" cy="316.6" r="2.35" fill="#fff" stroke="#000" stroke-width="0.8"/>
<circle cx="352.5" cy="320.46" r="2.35" fill="#fff" stroke="#000" stroke-width="0.8"/>
<circle cx="355.5" cy="325.76" r="2.35" fill="#fff" stroke="#000" stroke-width="0.8"/>
<circle cx="358.5" cy="330.58" r="2.35" fill="#fff" stroke="#000" stroke-width="0.8"/>
<circle cx="360.5" cy="333.95" r="2.35" fill="#fff" stroke="#000" stroke-width="0.8"/>
<circle cx="363.5" cy="341.18" r="2.35" fill="#fff" stroke="#000" stroke-width="0.8"/>
<circle cx="366.5" cy="347.69" r="2.35" fill="#fff" stroke="#000" stroke-width="0.8"/>
<circle cx="368.5" cy="352.27" r="2.35" fill="#fff" stroke="#000" stroke-width="0.8"/>
<circle cx="371.5" cy="357.09" r="2.35" fill="#fff" stroke="#000" stroke-width="0.8"/>
<circle cx="373.5" cy="361.43" r="2.35" fill="#fff" stroke="#000" stroke-width="0.8"/>
<circle cx="376.5" cy="365.53" r="2.35" fill="#fff" stroke="#000" stroke-width="0.8"/>
<circle cx="378.5" cy="369.62" r="2.35" fill="#fff" stroke="#000" stroke-width="0.8"/>
<circle cx="381.5" cy="373" r="2.35" fill="#fff" stroke="#000" stroke-width="0.8"/>
<circle cx="383.5" cy="375.89" r="2.35" fill="#fff" stroke="#000" stroke-width="0.8"/>
<circle cx="386.5" cy="378.78" r="2.35" fill="#fff" stroke="#000" stroke-width="0.8"/>
<circle cx="389.5" cy="380.95" r="2.35" fill="#fff" stroke="#000" stroke-width="0.8"/>
<path d="M335.5 272.5V287.5M340.5 276.5V288.5M355.5 281.5V297.5M370.5 288.5V313.5M386.5 293.5V335.5M401.5 299.5V355.5M416.5 311.5V371.5M432.5 325.5V379.5M447.5 340.5V384.5M462.5 353.5V386.5M477.5 365.5V387.5M493.5 370.5V389.5" stroke="#666" stroke-width="1" fill="none"/>
<path d="M332 272.5H339M332 287.5H339M337 276.5H344M337 288.5H344M352 281.5H359M352 297.5H359M367 288.5H374M367 313.5H374M383 293.5H390M383 335.5H390M398 299.5H405M398 355.5H405M413 311.5H420M413 371.5H420M429 325.5H436M429 379.5H436M444 340.5H451M444 384.5H451M459 353.5H466M459 386.5H466M474 365.5H481M474 387.5H481M490 370.5H497M490 389.5H497" stroke="#2a2a2a" stroke-width="1" fill="none"/>
<path d="M332.5 278.45H338.5L335.5 282.85Z" fill="#000"/>
<path d="M337.5 281.1H343.5L340.5 285.5Z" fill="#000"/>
<path d="M352.5 288.09H358.5L355.5 292.49Z" fill="#000"/>
<path d="M367.5 299.42H373.5L370.5 303.82Z" fill="#000"/>
<path d="M383.5 312.67H389.5L386.5 317.07Z" fill="#000"/>
<path d="M398.5 325.93H404.5L401.5 330.33Z" fill="#000"/>
<path d="M413.5 339.42H419.5L416.5 343.82Z" fill="#000"/>
<path d="M429.5 350.75H435.5L432.5 355.15Z" fill="#000"/>
<path d="M444.5 360.87H450.5L447.5 365.27Z" fill="#000"/>
<path d="M459.5 368.59H465.5L462.5 372.99Z" fill="#000"/>
<path d="M474.5 374.37H480.5L477.5 378.77Z" fill="#000"/>
<path d="M490.5 378.23H496.5L493.5 382.62Z" fill="#000"/>
<rect x="462.5" y="5.5" width="81" height="40" fill="#fff" stroke="#3a3a3a" stroke-width="1"/>
<circle cx="479.7" cy="16.4" r="2.6" fill="#000"/>
<circle cx="479.7" cy="25.9" r="2.2" fill="#fff" stroke="#000" stroke-width="0.8"/>
<path d="M476.7 33.6H482.7L479.7 38.2Z" fill="#000"/>
<text x="494.7" y="19.5" class="lg">0.1% (w/v)</text>
<text x="494.7" y="29" class="lg">0.5% (w/v)</text>
<text x="495.6" y="38.5" class="lg">1% (w/v)</text>
</svg>
</body></html>
